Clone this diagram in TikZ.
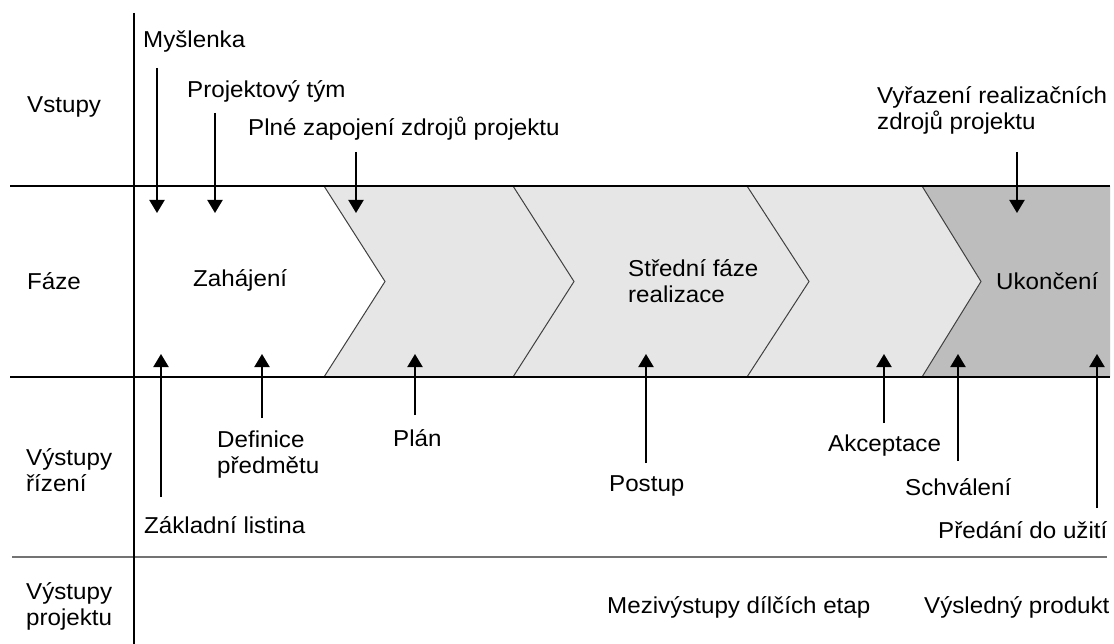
\documentclass[tikz,border=0pt]{standalone}
\usepackage{fontspec}
\setmainfont{Liberation Sans}[FakeStretch=1.05]
\usetikzlibrary{arrows.meta}
\definecolor{phaselight}{RGB}{230,230,230}
\definecolor{phasedark}{RGB}{189,189,189}
\begin{document}
\begin{tikzpicture}
[x=1pt,y=-1pt,
 lbl/.style={anchor=base west,inner sep=0pt,font=\fontsize{23}{26}\selectfont,align=left},
 rule/.style={line width=2.4pt},
 thinrule/.style={draw=black!55,line width=1.4pt},
 chevline/.style={draw=black!75,line width=1pt},
 arr/.style={line width=2pt,-{Triangle[width=15pt,length=13pt]}}]
\useasboundingbox (0,0) rectangle (1114,644);
% phase band
\fill[phaselight] (324,186) -- (385,281.5) -- (324,377) -- (1110,377) -- (1110,186) -- cycle;
\fill[phasedark] (922,186) -- (981,281.5) -- (922,377) -- (1110,377) -- (1110,186) -- cycle;
\draw[chevline] (324,186) -- (385,281.5) -- (324,377);
\draw[chevline] (513,186) -- (574,281.5) -- (513,377);
\draw[chevline] (747,186) -- (809,281.5) -- (747,377);
\draw[chevline] (922,186) -- (981,281.5) -- (922,377);
% rules
\coordinate (topL) at (10,186);
\coordinate (topR) at (1110,186);
\coordinate (botL) at (10,377);
\coordinate (botR) at (1110,377);
\coordinate (sepL) at (12,557);
\coordinate (sepR) at (1107,557);
\coordinate (axisT) at (134,13);
\coordinate (axisB) at (134,644);
\draw[rule] (topL) -- (topR);
\draw[rule] (botL) -- (botR);
\draw[thinrule] (sepL) -- (sepR);
\draw[rule] (axisT) -- (axisB);
% row labels (multi-line nodes sit on their last line)
\node[lbl] (vstupy) at (27,112.5) {Vstupy};
\node[lbl] (faze) at (27,290) {Fáze};
\node[lbl] (vyrizeni) at (26,491) {Výstupy\\řízení};
\node[lbl] (vyprojekt) at (26,625) {Výstupy\\projektu};
% inputs
\node[lbl] (myslenka) at (143,47.3) {Myšlenka};
\node[lbl] (tym) at (187,98) {Projektový tým};
\node[lbl] (zapojeni) at (248,136) {Plné zapojení zdrojů projektu};
\node[lbl] (vyrazeni) at (877,130) {Vyřazení realizačních\\zdrojů projektu};
\coordinate (myslA) at (157,68);   \coordinate (myslB) at (157,213);
\coordinate (tymA) at (215,113);   \coordinate (tymB) at (215,213);
\coordinate (zapA) at (356,152);   \coordinate (zapB) at (356,213);
\coordinate (vyrA) at (1017,152);  \coordinate (vyrB) at (1017,213);
\draw[arr] (myslA) -- (myslB);
\draw[arr] (tymA) -- (tymB);
\draw[arr] (zapA) -- (zapB);
\draw[arr] (vyrA) -- (vyrB);
% phases
\node[lbl] (zahajeni) at (193,286.7) {Zahájení};
\node[lbl] (stredni) at (628,302.5) {Střední fáze\\realizace};
\node[lbl] (ukonceni) at (996,289.3) {Ukončení};
% control outputs
\node[lbl] (definice) at (217,473) {Definice\\předmětu};
\node[lbl] (plan) at (393,446.7) {Plán};
\node[lbl] (listina) at (144,533.3) {Základní listina};
\node[lbl] (postup) at (609,491.7) {Postup};
\node[lbl] (akceptace) at (828,451.7) {Akceptace};
\node[lbl] (schvaleni) at (905,495) {Schválení};
\node[lbl] (predani) at (938,538.3) {Předání do užití};
\coordinate (listA) at (161,497);  \coordinate (listB) at (161,354);
\coordinate (defA) at (262,418);   \coordinate (defB) at (262,354);
\coordinate (planA) at (415,415);  \coordinate (planB) at (415,354);
\coordinate (postA) at (646,463);  \coordinate (postB) at (646,354);
\coordinate (akcA) at (884,423);   \coordinate (akcB) at (884,354);
\coordinate (schA) at (958,461);   \coordinate (schB) at (958,354);
\coordinate (predA) at (1097,508); \coordinate (predB) at (1097,354);
\draw[arr] (listA) -- (listB);
\draw[arr] (defA) -- (defB);
\draw[arr] (planA) -- (planB);
\draw[arr] (postA) -- (postB);
\draw[arr] (akcA) -- (akcB);
\draw[arr] (schA) -- (schB);
\draw[arr] (predA) -- (predB);
% project outputs
\node[lbl] (mezi) at (607,613.3) {Mezivýstupy dílčích etap};
\node[lbl] (vysledny) at (924,613.3) {Výsledný produkt};
\end{tikzpicture}
\end{document}
